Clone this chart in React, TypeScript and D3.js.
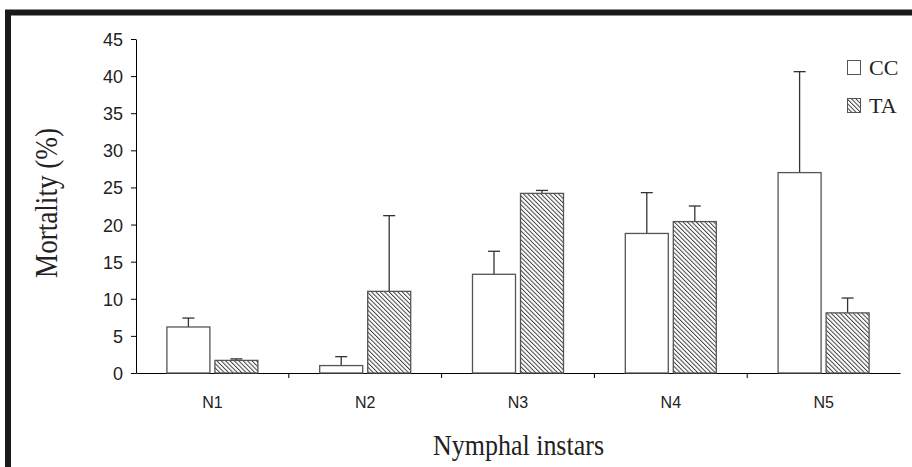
import React, { useEffect, useRef } from "react";
import * as d3 from "d3";

const instars = ["N1", "N2", "N3", "N4", "N5"];
const ccMean = [6.2, 1.0, 13.3, 18.8, 27.0];
const ccErr = [1.2, 1.2, 3.1, 5.5, 13.6];
const taMean = [1.7, 11.0, 24.2, 20.4, 8.1];
const taErr = [0.2, 10.2, 0.4, 2.1, 2.0];
const yTicks = [0, 5, 10, 15, 20, 25, 30, 35, 40, 45];
const seriesNames = ["CC", "TA"];

export default function App() {
  const svgRef = useRef(null);

  useEffect(() => {
    const width = 912;
    const height = 467;
    const svg = d3.select(svgRef.current);
    svg.selectAll("*").remove();
    svg.attr("width", width).attr("height", height);

    // hatch for TA bars ("\" direction)
    const defs = svg.append("defs");
    const step = 3.1;
    const pat = defs
      .append("pattern")
      .attr("id", "hatch")
      .attr("patternUnits", "userSpaceOnUse")
      .attr("width", step)
      .attr("height", step)
      .attr("patternTransform", "rotate(-45)");
    pat.append("rect").attr("width", step).attr("height", step).attr("fill", "#fff");
    pat
      .append("line")
      .attr("x1", 0)
      .attr("y1", 0)
      .attr("x2", 0)
      .attr("y2", step)
      .attr("stroke", "#3a3a3a")
      .attr("stroke-width", 1.9);

    svg.append("rect").attr("width", width).attr("height", height).attr("fill", "#fff");

    // frame
    svg
      .append("path")
      .attr("d", `M8,${height}V12.5H${width}`)
      .attr("fill", "none")
      .attr("stroke", "#1a1a1a")
      .attr("stroke-width", 6);

    const left = 136;
    const right = 900;
    const top = 39;
    const bottom = 373;

    const x = d3.scaleBand().domain(instars).range([left, right]);
    const y = d3.scaleLinear().domain([0, 45]).range([bottom, top]);
    const barW = 43;
    const gap = 5;

    // y axis
    const yAxis = svg
      .append("g")
      .attr("transform", `translate(${left},0)`)
      .call(d3.axisLeft(y).tickValues(yTicks).tickSize(5).tickSizeOuter(0));
    yAxis.select(".domain").attr("stroke", "#000");
    yAxis.selectAll("line").attr("stroke", "#000");
    yAxis
      .selectAll("text")
      .attr("font-family", "Liberation Sans, Arial, sans-serif")
      .attr("font-size", 18)
      .attr("fill", "#222")
      .attr("x", -13)
      .attr("dy", "0.36em");

    // x axis
    const xAxis = svg
      .append("g")
      .attr("transform", `translate(0,${bottom})`)
      .call(d3.axisBottom(x).tickSize(0).tickSizeOuter(0));
    xAxis.select(".domain").attr("stroke", "#000");
    xAxis
      .selectAll("text")
      .attr("font-family", "Liberation Sans, Arial, sans-serif")
      .attr("font-size", 16)
      .attr("fill", "#222")
      .attr("y", 0)
      .attr("dy", 35);
    // ticks at category boundaries
    svg
      .append("g")
      .selectAll("line")
      .data(instars.slice(1))
      .join("line")
      .attr("x1", (d) => x(d)!)
      .attr("x2", (d) => x(d)!)
      .attr("y1", bottom)
      .attr("y2", bottom + 5)
      .attr("stroke", "#000");

    const groups = [
      { mean: ccMean, err: ccErr, fill: "#fff", off: -gap / 2 - barW },
      { mean: taMean, err: taErr, fill: "url(#hatch)", off: gap / 2 },
    ];

    groups.forEach((g) => {
      const gg = svg.append("g");
      const cx = (d: string) => x(d)! + x.bandwidth() / 2 + g.off;
      // error bars
      gg.selectAll("line.err")
        .data(instars)
        .join("line")
        .attr("class", "err")
        .attr("x1", (d) => cx(d) + barW / 2)
        .attr("x2", (d) => cx(d) + barW / 2)
        .attr("y1", (d, i) => y(g.mean[i]))
        .attr("y2", (d, i) => y(g.mean[i] + g.err[i]))
        .attr("stroke", "#333")
        .attr("stroke-width", 1.3);
      gg.selectAll("line.cap")
        .data(instars)
        .join("line")
        .attr("class", "cap")
        .attr("x1", (d) => cx(d) + barW / 2 - 6)
        .attr("x2", (d) => cx(d) + barW / 2 + 6)
        .attr("y1", (d, i) => y(g.mean[i] + g.err[i]))
        .attr("y2", (d, i) => y(g.mean[i] + g.err[i]))
        .attr("stroke", "#333")
        .attr("stroke-width", 1.3);
      gg.selectAll("rect")
        .data(instars)
        .join("rect")
        .attr("x", (d) => cx(d))
        .attr("width", barW)
        .attr("y", (d, i) => y(g.mean[i]))
        .attr("height", (d, i) => bottom - y(g.mean[i]))
        .attr("fill", g.fill)
        .attr("stroke", "#555")
        .attr("stroke-width", 1.3);
    });

    // legend
    const legend = svg.append("g").attr("transform", "translate(847,60)");
    seriesNames.forEach((name, i) => {
      legend
        .append("rect")
        .attr("x", 0.5)
        .attr("y", i * 38 + 0.5)
        .attr("width", 13)
        .attr("height", 14)
        .attr("fill", i === 0 ? "#fff" : "url(#hatch)")
        .attr("stroke", "#555")
        .attr("stroke-width", 1);
      legend
        .append("text")
        .attr("x", 22)
        .attr("y", i * 38 + 15)
        .attr("font-family", "Liberation Serif, Times New Roman, serif")
        .attr("font-size", 22)
        .attr("fill", "#222")
        .text(name);
    });

    // axis titles
    svg
      .append("text")
      .attr("x", 433)
      .attr("y", 455)
      .attr("textLength", 171)
      .attr("lengthAdjust", "spacingAndGlyphs")
      .attr("font-family", "Liberation Serif, Times New Roman, serif")
      .attr("font-size", 29)
      .attr("fill", "#222")
      .text("Nymphal instars");
    svg
      .append("text")
      .attr("transform", `translate(57,278) rotate(-90)`)
      .attr("textLength", 150)
      .attr("lengthAdjust", "spacingAndGlyphs")
      .attr("font-family", "Liberation Serif, Times New Roman, serif")
      .attr("font-size", 31)
      .attr("fill", "#222")
      .text("Mortality (%)");
  }, []);

  return (
    <div style={{ position: "fixed", left: 0, top: 0 }}>
      <svg ref={svgRef} style={{ display: "block" }}></svg>
    </div>
  );
}
